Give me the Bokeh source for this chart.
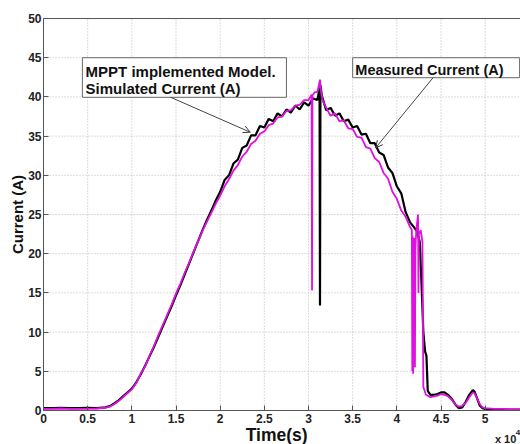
from bokeh.plotting import figure
from bokeh.models import Range1d, FixedTicker, Label, Arrow, OpenHead
from bokeh.embed import file_html
from bokeh.resources import INLINE

# ---- data (time in units of 1e4 s, current in A) ----
meas_t = [
    0.00, 0.10, 0.20, 0.30, 0.40, 0.50, 0.60, 0.70, 0.75, 0.80,
    0.85, 0.90, 0.95, 1.00, 1.05, 1.10, 1.15, 1.20, 1.25, 1.30,
    1.35, 1.40, 1.45, 1.50, 1.55, 1.60, 1.65, 1.70, 1.75, 1.80,
    1.85, 1.90, 1.95, 2.00, 2.05, 2.10, 2.15, 2.20, 2.25, 2.30,
    2.35, 2.40, 2.45, 2.50, 2.55, 2.60, 2.65, 2.70, 2.75, 2.80,
    2.85, 2.90, 2.95, 3.00, 3.05, 3.10, 3.125, 3.13, 3.135, 3.15,
    3.20, 3.25, 3.30, 3.35, 3.40, 3.45, 3.50, 3.55, 3.60, 3.65,
    3.70, 3.75, 3.80, 3.85, 3.90, 3.95, 4.00, 4.05, 4.10, 4.15,
    4.20, 4.23, 4.26, 4.28, 4.30, 4.32, 4.335, 4.35, 4.38, 4.42,
    4.46, 4.50, 4.54, 4.58, 4.62, 4.66, 4.70, 4.74, 4.78, 4.82,
    4.86, 4.88, 4.91, 4.94, 4.97, 5.00, 5.10, 5.20, 5.30, 5.40,
]
meas_i = [
    0.30, 0.30, 0.35, 0.30, 0.30, 0.35, 0.30, 0.40, 0.55, 0.90,
    1.30, 1.80, 2.30, 2.80, 3.60, 4.60, 5.70, 6.90, 8.10, 9.40,
    10.7, 12.0, 13.3, 14.7, 16.0, 17.4, 18.8, 20.2, 21.6, 23.0,
    24.3, 25.5, 26.8, 27.9, 29.4, 30.0, 31.5, 32.0, 33.5, 33.8,
    35.1, 35.1, 36.3, 36.1, 37.2, 36.9, 37.9, 37.5, 38.4, 38.0,
    38.9, 38.4, 39.3, 38.9, 39.8, 39.6, 41.0, 13.4, 41.5, 40.2,
    38.3, 38.6, 37.6, 37.9, 36.9, 37.1, 36.1, 36.3, 35.2, 35.3,
    34.1, 34.1, 32.9, 32.6, 31.0, 30.3, 28.6, 27.7, 25.3, 24.0,
    23.3, 22.8, 21.5, 16.0, 10.0, 7.5, 7.0, 2.5, 2.0, 2.0,
    2.1, 2.3, 2.3, 2.0, 1.5, 0.8, 0.3, 0.4, 1.1, 2.0,
    2.6, 2.4, 1.5, 0.6, 0.3, 0.2, 0.1, 0.1, 0.1, 0.1,
]

sim_t = [
    0.00, 0.10, 0.20, 0.30, 0.40, 0.50, 0.60, 0.70, 0.75, 0.80,
    0.85, 0.90, 0.95, 1.00, 1.05, 1.10, 1.15, 1.20, 1.25, 1.30,
    1.35, 1.40, 1.45, 1.50, 1.55, 1.60, 1.65, 1.70, 1.75, 1.80,
    1.85, 1.90, 1.95, 2.00, 2.05, 2.10, 2.15, 2.20, 2.25, 2.30,
    2.35, 2.40, 2.45, 2.50, 2.55, 2.60, 2.65, 2.70, 2.75, 2.80,
    2.85, 2.90, 2.95, 3.00, 3.035, 3.04, 3.045, 3.07, 3.10, 3.13,
    3.14, 3.16, 3.20, 3.25, 3.30, 3.35, 3.40, 3.45, 3.50, 3.55,
    3.60, 3.65, 3.70, 3.75, 3.80, 3.85, 3.90, 3.95, 4.00, 4.05,
    4.10, 4.15, 4.17, 4.175, 4.18, 4.185, 4.19, 4.195, 4.20, 4.205,
    4.21, 4.22, 4.24, 4.245, 4.25, 4.27, 4.29, 4.30, 4.33, 4.38,
    4.42, 4.46, 4.50, 4.54, 4.58, 4.62, 4.66, 4.70, 4.74, 4.78,
    4.82, 4.86, 4.88, 4.91, 4.94, 4.97, 5.00, 5.10, 5.20, 5.30,
    5.40,
]
sim_i = [
    0.20, 0.20, 0.25, 0.20, 0.20, 0.20, 0.25, 0.35, 0.50, 0.80,
    1.20, 1.70, 2.20, 2.70, 3.50, 4.70, 5.60, 7.00, 8.20, 9.60,
    10.9, 12.2, 13.5, 14.9, 16.2, 17.6, 18.9, 20.3, 21.6, 22.9,
    24.1, 25.2, 26.4, 27.4, 28.6, 29.5, 30.6, 31.3, 32.4, 33.0,
    34.0, 34.4, 35.3, 35.6, 36.4, 36.6, 37.4, 37.5, 38.2, 38.3,
    38.9, 39.0, 39.6, 39.6, 40.3, 15.3, 40.2, 40.6, 40.6, 42.2,
    40.8, 39.6, 38.6, 37.6, 37.9, 36.9, 37.0, 36.0, 35.9, 34.9,
    34.8, 33.6, 33.4, 32.2, 31.7, 30.3, 29.6, 27.9, 27.0, 25.5,
    24.7, 23.4, 23.0, 5.0, 22.2, 4.7, 21.0, 6.0, 22.0, 5.5,
    20.5, 23.0, 25.0, 15.0, 22.5, 23.0, 21.5, 3.0, 2.0, 1.7,
    1.8, 1.9, 2.1, 2.0, 1.8, 1.4, 0.8, 0.5, 0.6, 1.0,
    1.7, 2.3, 2.2, 1.5, 0.8, 0.4, 0.3, 0.2, 0.2, 0.15,
    0.15,
]

x_ticks = [0, 0.5, 1, 1.5, 2, 2.5, 3, 3.5, 4, 4.5, 5]
x_tick_labels = ["0", "0.5", "1", "1.5", "2", "2.5", "3", "3.5", "4", "4.5", "5"]
y_ticks = [0, 5, 10, 15, 20, 25, 30, 35, 40, 45, 50]
y_tick_labels = ["0", "5", "10", "15", "20", "25", "30", "35", "40", "45", "50"]

FONT = "Liberation Sans"
X_START = -0.487   # room left of the axis for tick labels and the axis title
X_END = 5.40
Y_TOP = 50
Y_RANGE_TOP = 52.30  # small margin above the axes box
Y_BOTTOM = -4.34     # room under the axis for tick labels and the axis title

p = figure(width=520, height=444, output_backend="svg", toolbar_location=None,
           x_range=Range1d(X_START, X_END), y_range=Range1d(Y_BOTTOM, Y_RANGE_TOP),
           min_border_left=0, min_border_right=0, min_border_top=0,
           min_border_bottom=0)
p.outline_line_color = None
p.background_fill_color = "white"
p.border_fill_color = "white"
p.grid.visible = False

p.xaxis.fixed_location = 0
p.yaxis.fixed_location = 0
p.xaxis.bounds = (0, X_END)
p.yaxis.bounds = (0, Y_TOP)
p.xaxis.ticker = FixedTicker(ticks=x_ticks)
p.yaxis.ticker = FixedTicker(ticks=y_ticks)
p.xaxis.major_label_overrides = {t: l for t, l in zip(x_ticks, x_tick_labels)}
p.yaxis.major_label_overrides = {t: l for t, l in zip(y_ticks, y_tick_labels)}

for ax in (p.xaxis[0], p.yaxis[0]):
    ax.major_tick_in = 5
    ax.major_tick_out = 0
    ax.minor_tick_line_color = None
    ax.axis_line_color = "#555555"
    ax.major_tick_line_color = "#555555"
    ax.major_label_text_font = FONT
    ax.major_label_text_font_size = "12px"
    ax.major_label_text_font_style = "bold"
    ax.major_label_text_color = "#222222"

p.xaxis.major_label_standoff = 4
p.yaxis.major_label_standoff = 2
p.yaxis.axis_label = "Current (A)"
p.yaxis.axis_label_text_font = FONT
p.yaxis.axis_label_text_font_style = "bold"
p.yaxis.axis_label_text_color = "#111111"
p.yaxis.axis_label_text_font_size = "15px"
p.yaxis.axis_label_standoff = -1

# dotted grid limited to the axes box
grid_kw = dict(line_color="#b8b8b8", line_dash="1 2", line_width=1)
p.segment(x0=x_ticks, y0=[0] * len(x_ticks), x1=x_ticks, y1=[Y_TOP] * len(x_ticks), **grid_kw)
p.segment(x0=[0] * len(y_ticks), y0=y_ticks, x1=[X_END] * len(y_ticks), y1=y_ticks, **grid_kw)

# top edge of the axes box
p.segment(x0=[0], y0=[Y_TOP], x1=[X_END], y1=[Y_TOP], line_color="#555555", line_width=1)

p.line(meas_t, meas_i, line_color="black", line_width=2.2)
p.line(sim_t, sim_i, line_color="#e010e0", line_width=1.8)

# annotation boxes
p.quad(left=[0.44], right=[2.75], top=[45.0], bottom=[39.95],
       fill_color="white", line_color="#666666", line_width=1)
p.quad(left=[3.50], right=[5.39], top=[45.0], bottom=[42.45],
       fill_color="white", line_color="#666666", line_width=1)

lab_kw = dict(text_font=FONT, text_font_size="15px", text_font_style="bold",
              text_color="#111111", text_baseline="alphabetic")
p.add_layout(Label(x=0.476, y=43.23, text="MPPT implemented Model.", **lab_kw))
p.add_layout(Label(x=0.476, y=41.13, text="Simulated Current (A)", **lab_kw))
p.add_layout(Label(x=3.53, y=43.48, text="Measured Current (A)", text_font=FONT,
                   text_font_size="14.5px", text_font_style="bold",
                   text_color="#111111", text_baseline="alphabetic"))

p.add_layout(Arrow(end=OpenHead(size=7, line_color="#333333", line_width=1),
                   x_start=1.44, y_start=39.95, x_end=2.34, y_end=35.5,
                   line_color="#444444", line_width=1))
p.add_layout(Arrow(end=OpenHead(size=7, line_color="#333333", line_width=1),
                   x_start=4.41, y_start=42.45, x_end=3.76, y_end=33.5,
                   line_color="#444444", line_width=1))

# x-axis title and exponent
p.add_layout(Label(x=2.64, y=-3.12, text="Time(s)", text_font=FONT, text_font_size="17.5px",
                   text_font_style="bold", text_color="#111111", text_align="center",
                   text_baseline="alphabetic"))
p.add_layout(Label(x=5.11, y=-3.58, text="x 10", text_font=FONT, text_font_size="11px",
                   text_font_style="bold", text_color="#222222", text_baseline="alphabetic"))
p.add_layout(Label(x=5.345, y=-2.82, text="4", text_font=FONT, text_font_size="8px",
                   text_font_style="bold", text_color="#222222", text_baseline="alphabetic"))

open("out.html", "w").write(file_html(p, INLINE))
